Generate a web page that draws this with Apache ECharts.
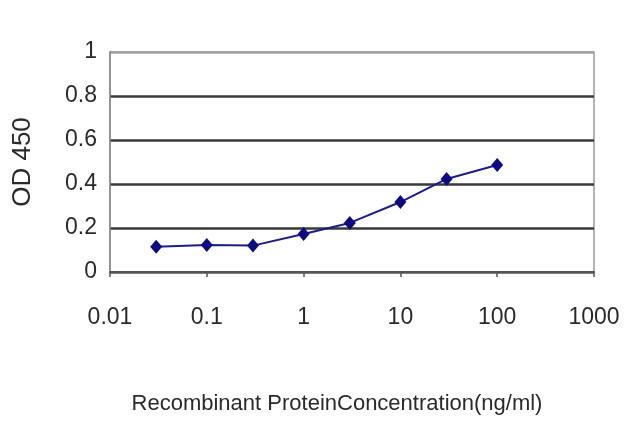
<!DOCTYPE html>
<html>
<head>
<meta charset="utf-8">
<script src="https://cdn.jsdelivr.net/npm/echarts@6/dist/echarts.min.js"></script>
<style>html,body{margin:0;padding:0;background:#fff}#c{width:640px;height:427px}</style>
</head>
<body>
<div id="c"></div>
<script>
var concentrations = [0.03, 0.1, 0.3, 1, 3, 10, 30, 100];
var odValues = [0.115, 0.123, 0.12, 0.173, 0.223, 0.318, 0.423, 0.486];
var xTickLabels = ['0.01', '0.1', '1', '10', '100', '1000'];
var yTickLabels = ['0', '0.2', '0.4', '0.6', '0.8', '1'];
var xTitle = 'Recombinant ProteinConcentration(ng/ml)';
var yTitle = 'OD 450';

var chart = echarts.init(document.getElementById('c'), null, {renderer: 'canvas'});
var font = 'Liberation Sans, Arial, sans-serif';
chart.setOption({
  animation: false,
  grid: {left: 110, right: 46, top: 52, bottom: 155, show: true, borderColor: '#9a9a9a', borderWidth: 1.5, backgroundColor: 'transparent'},
  xAxis: {
    type: 'log', logBase: 10, min: 0.01, max: 1000,
    axisLine: {show: true, lineStyle: {color: '#555', width: 2}},
    axisTick: {show: true, length: 5, lineStyle: {color: '#555', width: 1.5}},
    splitLine: {show: false},
    minorTick: {show: false},
    axisLabel: {
      margin: 34, color: '#2a2a2a', fontSize: 23, fontFamily: font,
      formatter: function (v) {
        var i = Math.round(Math.log10(v)) + 2;
        return xTickLabels[i] !== undefined ? xTickLabels[i] : '';
      }
    }
  },
  yAxis: {
    type: 'value', min: 0, max: 1, interval: 0.2,
    name: yTitle, nameLocation: 'middle', nameGap: 74, nameRotate: 90,
    nameTextStyle: {color: '#2a2a2a', fontSize: 26, fontFamily: font},
    axisLine: {show: true, lineStyle: {color: '#8a8a8a', width: 1.5}},
    axisTick: {show: false},
    splitLine: {show: true, lineStyle: {color: ['#555', '#3a3a3a', '#3a3a3a', '#3a3a3a', '#3a3a3a', '#a0a0a0'], width: 2.5}},
    axisLabel: {
      margin: 13, color: '#2a2a2a', fontSize: 23, fontFamily: font,
      formatter: function (v) { return yTickLabels[Math.round(v * 5)]; }
    }
  },
  graphic: [{
    type: 'text', x: 337, y: 404,
    style: {text: xTitle, fill: '#2a2a2a', font: '22px ' + font, textAlign: 'center', textVerticalAlign: 'middle'}
  }],
  series: [{
    type: 'line',
    data: concentrations.map(function (c, i) { return [c, odValues[i]]; }),
    symbol: 'diamond', symbolSize: [12, 14],
    lineStyle: {color: '#1c1c8a', width: 2},
    itemStyle: {color: '#0c0c80'}
  }]
});
</script>
</body>
</html>
